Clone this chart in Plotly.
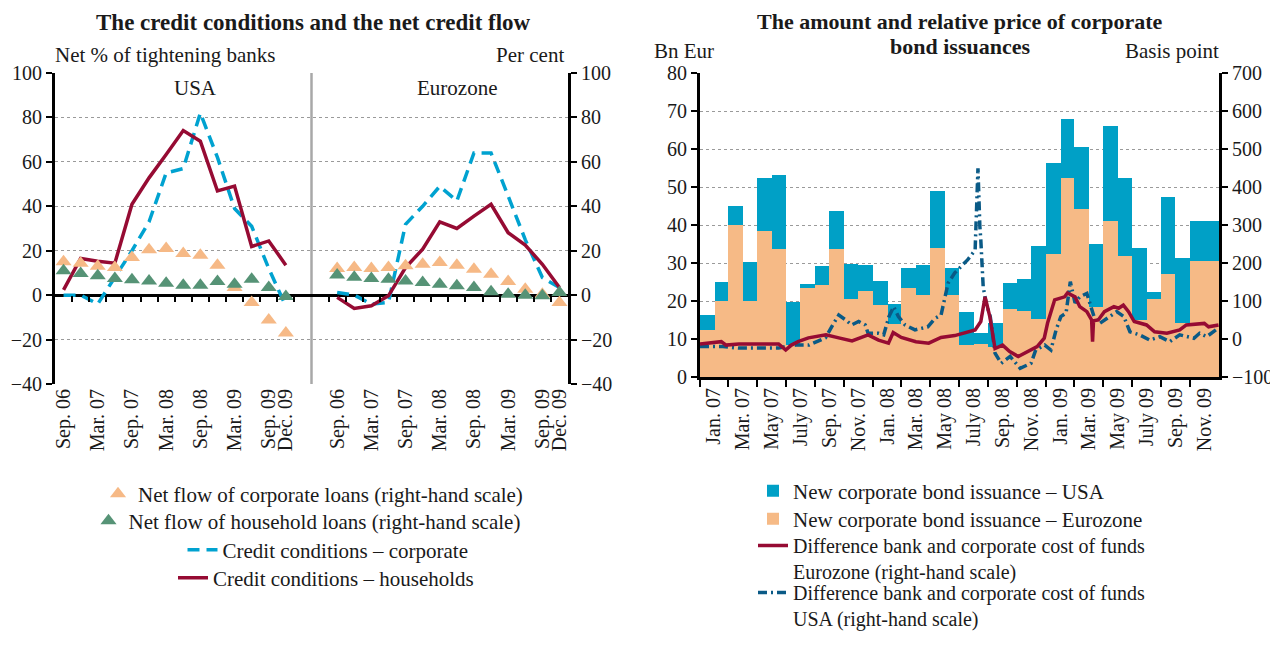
import plotly.graph_objects as go
import pandas as pd

# page body has an 8px default margin: the figure fills the rest of the window
OFF = 8
W, H = 1278 - OFF, 646 - 2 * OFF
FONT = "Liberation Serif"
TXT = "#1a1a1a"

# ---------------- left chart data ----------------
quarters = ["Sep. 06", "Dec. 06", "Mar. 07", "Jun. 07", "Sep. 07", "Dec. 07", "Mar. 08",
            "Jun. 08", "Sep. 08", "Dec. 08", "Mar. 09", "Jun. 09", "Sep. 09", "Dec. 09"]
quarter_tick_labels = ["Sep. 06", "Mar. 07", "Sep. 07", "Mar. 08", "Sep. 08", "Mar. 09", "Sep. 09", "Dec. 09"]

usa_cc_households = [2.4, 16.5, 15.3, 14.4, 40.9, 52.8, 63.3, 74.1, 69.3, 46.9, 49.1, 21.9, 24.4, 13.5]
usa_cc_corporate = [0, 0, -4, 8, 20, 33, 55, 57, 82, 62, 39, 31, 12, -5]
usa_flow_corporate = [15, 14.4, 13, 12.4, 17, 20.4, 21, 18.7, 18, 13.5, 3.4, -3.3, -11.2, -17]
usa_flow_households = [11, 9.7, 8.7, 7.5, 6.9, 6.4, 5.4, 4.5, 4.5, 6.1, 4.9, 7.2, 3.4, -0.6]

euro_cc_households = [-1, -6, -4.8, -0.3, 12.4, 20.7, 33, 30, 35.6, 40.9, 28.1, 22.5, 13.9, 3.4]
euro_cc_corporate = [1.2, 0, -4, -3.3, 31.9, 40, 49, 42.4, 64, 64, 44.6, 25, 7.9, 3.4]
euro_flow_corporate = [12, 12.4, 12, 12.4, 13.2, 13.9, 14.7, 13.5, 11.7, 9.4, 6.1, 2.7, 0.4, -3.3]
euro_flow_households = [9.1, 8.1, 7.5, 7.2, 6.4, 5.7, 4.9, 4.2, 3.4, 1.5, 0.4, 0, -0.3, 1.2]

# ---------------- right chart data ----------------
month_start = "2007-01-01"
euro_issuance = [12.5, 20, 40, 20, 38.5, 33.7, 8.5, 23.5, 24.2, 33.7, 20.4, 22.7,
                 19, 14, 23.4, 21.5, 34, 21.5, 8.5, 8.7, 8, 17.9, 17.4, 15.3,
                 32.5, 52.5, 44.3, 18.5, 41, 31.8, 15, 20.5, 27.2, 14.3, 30.4, 30.4]
usa_issuance = [3.8, 5, 5, 10.2, 14, 19.5, 11.2, 1, 4.9, 10.1, 9.4, 6.8,
                6.3, 5.3, 5.3, 7.9, 15, 7.2, 8.7, 2.8, 6.3, 6.9, 8.4, 19.3,
                23.7, 15.5, 16.1, 16.6, 25.1, 20.7, 18.9, 2, 20.2, 16.9, 10.6, 10.6]
month_tick_labels = ["Jan. 07", "Mar. 07", "May 07", "July 07", "Sep. 07", "Nov. 07",
                     "Jan. 08", "Mar. 08", "May 08", "July 08", "Sep. 08", "Nov. 08",
                     "Jan. 09", "Mar. 09", "May 09", "July 09", "Sep. 09", "Nov. 09"]

eu_diff_dates = ["2007-01-01", "2007-02-15", "2007-02-25", "2007-03-24", "2007-06-16", "2007-07-01",
                 "2007-07-13", "2007-07-27", "2007-08-18", "2007-09-24", "2007-10-21", "2007-11-18",
                 "2007-12-22", "2008-01-13", "2008-02-03", "2008-02-13", "2008-03-01", "2008-04-01",
                 "2008-04-28", "2008-05-24", "2008-06-22", "2008-07-19", "2008-08-04", "2008-08-16",
                 "2008-08-25", "2008-09-04", "2008-09-15", "2008-10-01", "2008-10-16", "2008-11-03",
                 "2008-11-24", "2008-12-13", "2008-12-28", "2009-01-04", "2009-01-19", "2009-02-09",
                 "2009-02-15", "2009-03-03", "2009-03-13", "2009-03-28", "2009-04-07", "2009-04-09",
                 "2009-04-11", "2009-04-21", "2009-05-04", "2009-05-24", "2009-06-03", "2009-06-13",
                 "2009-06-24", "2009-07-06", "2009-08-01", "2009-08-18", "2009-09-13", "2009-10-10",
                 "2009-10-24", "2009-12-01", "2009-12-10", "2009-12-31"]
eu_diff_bp = [-13, -7, -16, -13, -13, -29,
              -16, -7, 3, 11, 3, -5,
              11, -3, -11, 17, 4, -7,
              -11, 4, 9, 18, 24, 46,
              111, 59, -25, -16, -33, -46,
              -33, -20, 2, 42, 103, 111,
              121, 111, 85, 72, 50, -7,
              48, 50, 72, 85, 81, 89,
              72, 46, 37, 19, 15, 24,
              37, 41, 32, 37]

us_diff_dates = ["2007-01-01", "2007-02-18", "2007-03-24", "2007-06-16", "2007-07-01", "2007-07-22",
                 "2007-08-19", "2007-09-23", "2007-10-06", "2007-10-21", "2007-11-05", "2007-11-17",
                 "2007-12-02", "2007-12-16", "2007-12-22", "2008-01-13", "2008-01-24", "2008-02-04",
                 "2008-02-14", "2008-02-24", "2008-03-09", "2008-03-30", "2008-04-26", "2008-05-11",
                 "2008-05-24", "2008-06-08", "2008-06-22", "2008-07-19", "2008-08-04", "2008-08-10",
                 "2008-08-14", "2008-08-16", "2008-08-21", "2008-08-27", "2008-09-05", "2008-09-15",
                 "2008-09-28", "2008-10-17", "2008-11-07", "2008-11-30", "2008-12-10", "2008-12-29",
                 "2009-01-11", "2009-01-22", "2009-02-01", "2009-02-12", "2009-02-21", "2009-03-03",
                 "2009-03-13", "2009-03-28", "2009-04-12", "2009-04-24", "2009-05-15", "2009-05-30",
                 "2009-06-14", "2009-06-27", "2009-07-17", "2009-08-08", "2009-08-29", "2009-09-19",
                 "2009-10-10", "2009-11-09", "2009-11-21", "2009-12-06", "2009-12-31"]
us_diff_bp = [-20, -20, -24, -24, -20, -16,
              -16, 3, 32, 63, 50, 37,
              46, 37, 15, 15, 11, 59,
              85, 59, 37, 24, 32, 54,
              63, 147, 174, 208, 234, 449,
              296, 261, 138, 95, 59, -37,
              -64, -46, -77, -64, -29, -16,
              -29, 24, 59, 68, 151, 95,
              111, 120, 59, 41, 59, 72,
              59, 19, 11, -3, 6, -7,
              11, 2, 15, 6, 29]

# ---------------- styles / geometry ----------------
ORANGE_T = "#F6B986"
GREEN_T = "#569376"
RED = "#960B33"
CYAN = "#00A2D0"
BAR_BLUE = "#00A0C6"
BAR_ORANGE = "#F6BA86"
US_LINE = "#0A5A86"
GRID = "#9a9a9a"


def fx(p):
    return (p - OFF) / W


def fy(p):
    return 1 - (p - OFF) / H


L_X0, L_X1, L_Y0, L_Y1 = 55, 568, 73, 384
R_X0, R_X1, R_Y0, R_Y1 = 700, 1219, 73, 377
L_RANGE = [-40, 100]

n = len(quarters)
usa_x = list(range(n))
euro_x = [i + n + 2 for i in range(n)]
x_range = [-0.5, euro_x[-1] + 0.5]
divider_x = (usa_x[-1] + euro_x[0]) / 2
label_pos = [quarters.index(q) for q in quarter_tick_labels]
tickvals_left = [usa_x[i] for i in label_pos] + [euro_x[i] for i in label_pos]
ticktext_left = quarter_tick_labels + quarter_tick_labels
half_ticks = [v + 0.5 for v in usa_x] + [v - 0.5 for v in euro_x]

ly0, ly1 = fy(L_Y1), fy(L_Y0)
zero_pos = ly0 + (0 - L_RANGE[0]) / (L_RANGE[1] - L_RANGE[0]) * (ly1 - ly0)

fig = go.Figure()

# --- left chart: net flows (right-hand scale) ---
for xs, ys, nm, col, lg, show in [
    (usa_x, usa_flow_corporate, "Net flow of corporate loans (right-hand scale)", ORANGE_T, "legend", True),
    (euro_x, euro_flow_corporate, "Net flow of corporate loans (right-hand scale)", ORANGE_T, "legend", False),
    (usa_x, usa_flow_households, "Net flow of household loans (right-hand scale)", GREEN_T, "legend2", True),
    (euro_x, euro_flow_households, "Net flow of household loans (right-hand scale)", GREEN_T, "legend2", False),
]:
    fig.add_trace(go.Scatter(x=xs, y=ys, mode="markers", name=nm, legend=lg, showlegend=show,
                             marker=dict(symbol="triangle-up", size=14, color=col, line=dict(width=0)),
                             xaxis="x2", yaxis="y2", hoverinfo="skip"))

for xs, ys, nm, col, dash, lg, show in [
    (usa_x, usa_cc_corporate, "Credit conditions – corporate", CYAN, "12px,7px", "legend3", True),
    (euro_x, euro_cc_corporate, "Credit conditions – corporate", CYAN, "12px,7px", "legend3", False),
    (usa_x, usa_cc_households, "Credit conditions – households", RED, "solid", "legend4", True),
    (euro_x, euro_cc_households, "Credit conditions – households", RED, "solid", "legend4", False),
]:
    fig.add_trace(go.Scatter(x=xs, y=ys, mode="lines", name=nm, legend=lg, showlegend=show,
                             line=dict(color=col, width=3.5, dash=dash),
                             xaxis="x", yaxis="y", hoverinfo="skip"))

# --- right chart: bars ---
months = pd.date_range(month_start, periods=len(euro_issuance), freq="MS")
next_months = months + pd.offsets.MonthBegin(1)
mid = months + (next_months - months) / 2
width_ms = [(b - a).total_seconds() * 1000 for a, b in zip(months, next_months)]

fig.add_trace(go.Bar(x=mid, y=euro_issuance, width=width_ms, marker=dict(color=BAR_ORANGE, line=dict(width=0)),
                     name="New corporate bond issuance – Eurozone", legend="legend6",
                     xaxis="x3", yaxis="y3", hoverinfo="skip"))
fig.add_trace(go.Bar(x=mid, y=usa_issuance, width=width_ms, marker=dict(color=BAR_BLUE, line=dict(width=0)),
                     name="New corporate bond issuance – USA", legend="legend5",
                     xaxis="x3", yaxis="y3", hoverinfo="skip"))

fig.add_trace(go.Scatter(x=us_diff_dates, y=us_diff_bp, mode="lines",
                         name="Difference bank and corporate cost of funds<br>USA (right-hand scale)",
                         legend="legend8", line=dict(color=US_LINE, width=3.5, dash="9px,4px,2px,4px"),
                         xaxis="x3", yaxis="y4", hoverinfo="skip"))
fig.add_trace(go.Scatter(x=eu_diff_dates, y=eu_diff_bp, mode="lines",
                         name="Difference bank and corporate cost of funds<br>Eurozone (right-hand scale)",
                         legend="legend7", line=dict(color=RED, width=3.5),
                         xaxis="x3", yaxis="y4", hoverinfo="skip"))

# ticks for the right chart
boundaries = list(months[::2])
label_dates = [a + (b - a) / 2 for a, b in zip(boundaries, boundaries[1:] + [next_months[-1]])]

tickfont = dict(family=FONT, size=20, color=TXT)
yax_common = dict(showline=True, linecolor="black", linewidth=3, ticks="outside", ticklen=6,
                  tickwidth=2, tickcolor="black", tickfont=tickfont, automargin=False)

legend_common = dict(bgcolor="rgba(0,0,0,0)", font=dict(family=FONT, size=21, color=TXT),
                     itemwidth=30, borderwidth=0, tracegroupgap=0)
legend_small = dict(legend_common, font=dict(family=FONT, size=20, color=TXT))

fig.update_layout(
    width=W, height=H, autosize=False,
    margin=dict(l=0, r=0, t=0, b=0, pad=0, autoexpand=False),
    paper_bgcolor="white", plot_bgcolor="white",
    barmode="stack", bargap=0,
    font=dict(family=FONT, color=TXT, size=21),
    xaxis=dict(domain=[fx(L_X0), fx(L_X1)], anchor="y", range=x_range, tickmode="array",
               tickvals=tickvals_left, ticktext=ticktext_left, tickangle=-90, ticks="",
               showline=False, showgrid=False, zeroline=False, tickfont=tickfont, automargin=False),
    xaxis2=dict(overlaying="x", anchor="free", position=zero_pos, range=x_range, tickmode="array",
                tickvals=half_ticks, ticks="outside", ticklen=6, tickwidth=2, tickcolor="black",
                showticklabels=False, showline=False, showgrid=False, zeroline=False, automargin=False),
    yaxis=dict(domain=[ly0, ly1], anchor="x", range=L_RANGE, dtick=20, side="left",
               showgrid=True, gridcolor=GRID, griddash="dot", gridwidth=1,
               zeroline=True, zerolinecolor="black", zerolinewidth=2.5, **yax_common),
    yaxis2=dict(overlaying="y", anchor="x", side="right", range=L_RANGE, dtick=20, showgrid=False,
                zeroline=False, **yax_common),
    xaxis3=dict(domain=[fx(R_X0), fx(R_X1)], anchor="y3", type="date",
                range=[months[0], next_months[-1]], tickmode="array",
                tickvals=label_dates, ticktext=month_tick_labels, tickangle=-90, ticks="",
                showline=True, linecolor="black", linewidth=3, showgrid=False, zeroline=False,
                tickfont=tickfont, automargin=False,
                minor=dict(tickmode="array", tickvals=boundaries, ticks="outside", ticklen=7,
                           tickwidth=2, tickcolor="black", showgrid=False)),
    yaxis3=dict(domain=[fy(R_Y1), fy(R_Y0)], anchor="x3", range=[0, 80], dtick=10, side="left",
                showgrid=True, gridcolor=GRID, griddash="dot", gridwidth=1, zeroline=False, **yax_common),
    yaxis4=dict(overlaying="y3", anchor="x3", side="right", range=[-100, 700], dtick=100,
                showgrid=False, zeroline=False, **yax_common),
    legend=dict(x=fx(313), y=fy(494), xanchor="center", yanchor="middle", **legend_common),
    legend2=dict(x=fx(307), y=fy(521), xanchor="center", yanchor="middle", **legend_common),
    legend3=dict(x=fx(328), y=fy(550), xanchor="center", yanchor="middle", **legend_common),
    legend4=dict(x=fx(326), y=fy(578), xanchor="center", yanchor="middle", **legend_common),
    legend5=dict(x=fx(753), y=fy(491), xanchor="left", yanchor="middle", **legend_common),
    legend6=dict(x=fx(753), y=fy(519), xanchor="left", yanchor="middle", **legend_common),
    legend7=dict(x=fx(753), y=fy(526), xanchor="left", yanchor="top", valign="top", **legend_small),
    legend8=dict(x=fx(753), y=0, xanchor="left", yanchor="bottom", valign="top", **legend_small),
    shapes=[dict(type="line", xref="x", yref="y", x0=divider_x, x1=divider_x, y0=L_RANGE[0], y1=L_RANGE[1],
                 line=dict(color="#a8a8a8", width=2.5), layer="below")],
)

ann_font = dict(family=FONT, size=21, color=TXT)
title_font = dict(family=FONT, size=23, color=TXT)
annotations = [
    dict(text="<b>The credit conditions and the net credit flow</b>", x=fx(313), y=fy(22),
         xanchor="center", yanchor="middle", font=title_font),
    dict(text="<b>The amount and relative price of corporate</b>", x=fx(960), y=fy(21),
         xanchor="center", yanchor="middle", font=dict(title_font, size=22)),
    dict(text="<b>bond issuances</b>", x=fx(960), y=fy(46),
         xanchor="center", yanchor="middle", font=dict(title_font, size=22)),
    dict(text="Net % of tightening banks", x=fx(53), y=fy(55), xanchor="left", yanchor="middle", font=ann_font),
    dict(text="Per cent", x=fx(566), y=fy(55), xanchor="right", yanchor="middle", font=ann_font),
    dict(text="Bn Eur", x=fx(652), y=fy(51), xanchor="left", yanchor="middle", font=ann_font),
    dict(text="Basis point", x=fx(1221), y=fy(51), xanchor="right", yanchor="middle", font=ann_font),
    dict(text="USA", x=fx(195), y=fy(88), xanchor="center", yanchor="middle", font=ann_font),
    dict(text="Eurozone", x=fx(457), y=fy(88), xanchor="center", yanchor="middle", font=ann_font),
]
for a in annotations:
    a.update(xref="paper", yref="paper", showarrow=False)
fig.update_layout(annotations=annotations)

fig.write_html("out.html")
